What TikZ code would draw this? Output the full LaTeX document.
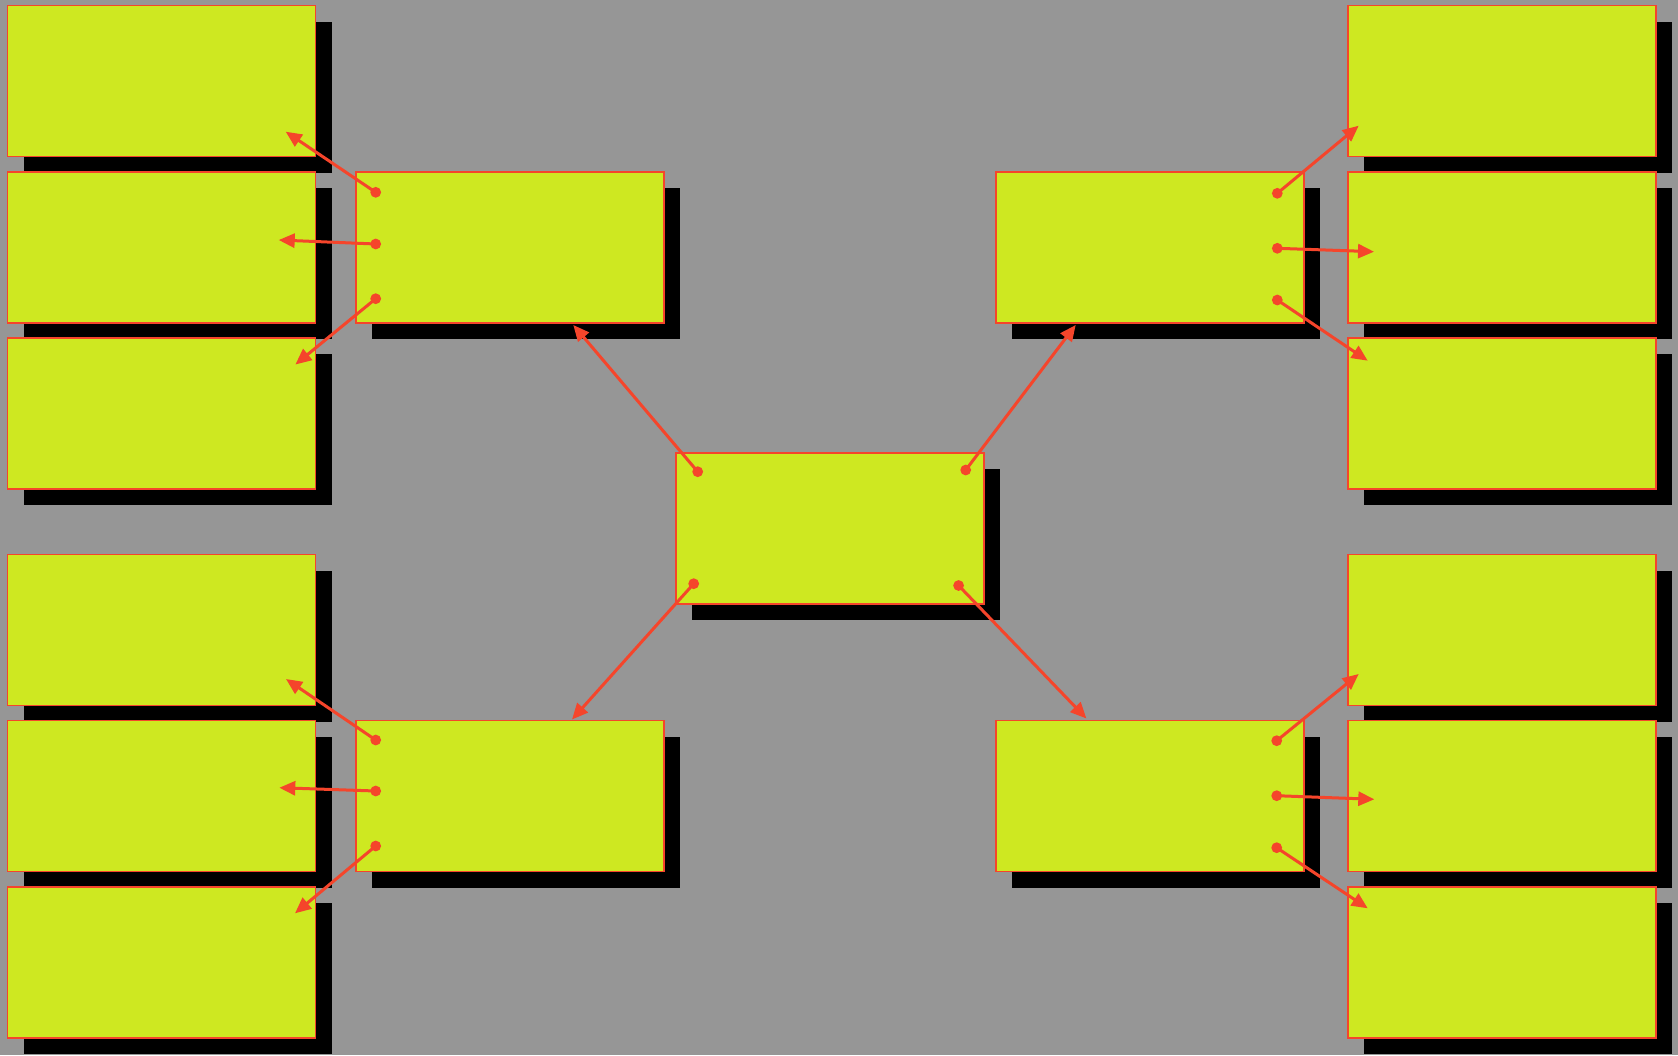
\documentclass[tikz,border=0pt]{standalone}
\usetikzlibrary{shadows,arrows.meta}
\definecolor{bggray}{HTML}{969696}
\definecolor{boxfill}{HTML}{CEE821}
\definecolor{edgered}{HTML}{F5452B}
\tikzset{
  card/.style={rectangle, draw=edgered, line width=1.6pt, fill=boxfill,
    minimum width=308pt, minimum height=151pt, inner sep=0pt, outer sep=0pt,
    drop shadow={shadow xshift=16pt, shadow yshift=-16.6pt, fill=black, opacity=1}},
  link/.style={draw=edgered, line width=3pt, -{Triangle[length=16pt,width=14pt]}},
  dotmark/.style={fill=edgered}
}
\begin{document}
\begin{tikzpicture}[x=1pt,y=-1pt]
\useasboundingbox (0,0) rectangle (1678,1055);
\fill[bggray] (0,0) rectangle (1678,1055);

% left column
\node[card] (l1) at (161.5,81) {};
\node[card] (l2) at (161.5,247.2) {};
\node[card] (l3) at (161.5,413.2) {};
\node[card] (l4) at (161.5,630) {};
\node[card] (l5) at (161.5,796) {};
\node[card] (l6) at (161.5,962.2) {};
% right column
\node[card] (r1) at (1502,81) {};
\node[card] (r2) at (1502,247.2) {};
\node[card] (r3) at (1502,413.2) {};
\node[card] (r4) at (1502,630) {};
\node[card] (r5) at (1502,796) {};
\node[card] (r6) at (1502,962.2) {};
% middle nodes
\node[card] (lmu) at (510,247.2) {};
\node[card] (lml) at (510,796) {};
\node[card] (rmu) at (1150,247.2) {};
\node[card] (rml) at (1150,796) {};
\node[card] (c) at (830,528.2) {};

% start points
\coordinate (clt) at (697.7,471.7);
\coordinate (crt) at (965.7,470);
\coordinate (clb) at (693.7,583.7);
\coordinate (crb) at (958.6,585.5);
\coordinate (lmu1) at (375.7,192.3);
\coordinate (lmu2) at (375.7,244);
\coordinate (lmu3) at (375.7,298.7);
\coordinate (lml1) at (375.7,740);
\coordinate (lml2) at (375.7,791);
\coordinate (lml3) at (375.7,846);
\coordinate (rmu1) at (1277.3,193.3);
\coordinate (rmu2) at (1277.3,248.3);
\coordinate (rmu3) at (1277.3,300);
\coordinate (rml1) at (1276.7,740.7);
\coordinate (rml2) at (1276.7,795.7);
\coordinate (rml3) at (1276.7,847.7);
% end points
\coordinate (tlmu) at (573.3,325);
\coordinate (trmu) at (1075.7,325);
\coordinate (tlml) at (572,719.5);
\coordinate (trml) at (1086.4,718.5);
\coordinate (tl1) at (285.7,131.7);
\coordinate (tl2) at (278.7,240);
\coordinate (tl3) at (295.4,364.5);
\coordinate (tl4) at (286,679);
\coordinate (tl5) at (279.3,787.7);
\coordinate (tl6) at (295,913.3);
\coordinate (tr1) at (1358.7,125.7);
\coordinate (tr2) at (1374,251.7);
\coordinate (tr3) at (1367.7,360.7);
\coordinate (tr4) at (1358.7,674);
\coordinate (tr5) at (1374.3,799.3);
\coordinate (tr6) at (1367.7,908.3);

% connectors
\draw[link] (clt) -- (tlmu);
\draw[link] (crt) -- (trmu);
\draw[link] (clb) -- (tlml);
\draw[link] (crb) -- (trml);
\draw[link] (lmu1) -- (tl1);
\draw[link] (lmu2) -- (tl2);
\draw[link] (lmu3) -- (tl3);
\draw[link] (lml1) -- (tl4);
\draw[link] (lml2) -- (tl5);
\draw[link] (lml3) -- (tl6);
\draw[link] (rmu1) -- (tr1);
\draw[link] (rmu2) -- (tr2);
\draw[link] (rmu3) -- (tr3);
\draw[link] (rml1) -- (tr4);
\draw[link] (rml2) -- (tr5);
\draw[link] (rml3) -- (tr6);

% dots
\foreach \p in {clt,crt,clb,crb,lmu1,lmu2,lmu3,lml1,lml2,lml3,rmu1,rmu2,rmu3,rml1,rml2,rml3}
  \fill[dotmark] (\p) circle (5.4pt);
\end{tikzpicture}
\end{document}
